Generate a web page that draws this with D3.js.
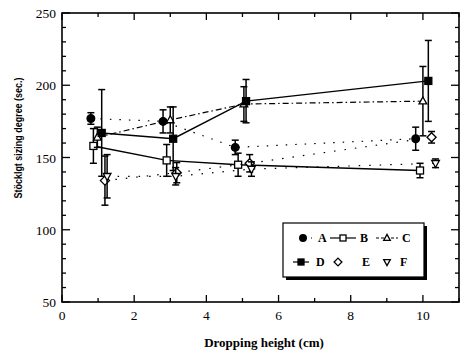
<!DOCTYPE html>
<html>
<head>
<meta charset="utf-8">
<script src="https://cdn.jsdelivr.net/npm/d3@7"></script>
<style>
  body { margin: 0; background: #fff; }
  svg { display: block; }
  .tick-label { font-family: "Liberation Serif", serif; font-size: 13.5px; fill: #000; }
  .title { font-family: "Liberation Serif", serif; font-weight: bold; font-size: 13px; }
  .ytitle { font-family: "Liberation Sans", Arial, sans-serif; font-weight: bold; font-size: 11.5px; }
  .leg { font-family: "Liberation Serif", serif; font-weight: bold; font-size: 12px; }
</style>
</head>
<body>
<svg id="chart" width="460" height="355"></svg>
<script>
// dropping height (cm), sizing degree (sec.) and error per series
const xA = [0.8, 2.8, 4.8, 9.8],     yA = [177, 175, 157, 163],   eA = [4, 8, 5, 8];
const xB = [0.87, 2.9, 4.88, 9.92],  yB = [158, 148, 145, 141],   eB = [12, 11, 8, 5];
const xC = [0.98, 3.0, 5.04, 10.0],  yC = [164, 176, 187, 189],   eC = [7, 9, 12, 24];
const xD = [1.1, 3.08, 5.1, 10.15],  yD = [167, 163, 189, 203],   eD = [30, 22, 15, 28];
const xE = [1.19, 3.18, 5.2, 10.24], yE = [134, 139.5, 146, 164], eE = [17, 7, 6, 4];
const xF = [1.25, 3.15, 5.25, 10.35], yF = [137, 137, 142, 146],  eF = [15, 6, 5, 3];

const xTicks = [0, 2, 4, 6, 8, 10];
const yTicks = [50, 100, 150, 200, 250];

const series = [
  { name: "A", xs: xA, ys: yA, es: eA, sym: "circle",   fill: "#000", dash: "1.5,8" },
  { name: "B", xs: xB, ys: yB, es: eB, sym: "square",   fill: "#fff", dash: null },
  { name: "C", xs: xC, ys: yC, es: eC, sym: "triangle", fill: "#fff", dash: "6,3,1.5,3" },
  { name: "D", xs: xD, ys: yD, es: eD, sym: "square",   fill: "#000", dash: null },
  { name: "E", xs: xE, ys: yE, es: eE, sym: "diamond",  fill: "#fff", dash: "1.5,9" },
  { name: "F", xs: xF, ys: yF, es: eF, sym: "down",     fill: "#fff", dash: "1.5,9" }
];

const svg = d3.select("#chart");
const mLeft = 62, mRight = 459, mTop = 13, mBottom = 302;

const x = d3.scaleLinear().domain([0, 11]).range([mLeft, mRight]);
const y = d3.scaleLinear().domain([50, 250]).range([mBottom, mTop]);

// frame
svg.append("rect")
  .attr("x", mLeft).attr("y", mTop)
  .attr("width", mRight - mLeft).attr("height", mBottom - mTop)
  .attr("fill", "none").attr("stroke", "#000").attr("stroke-width", 1.6);

// ticks on all four sides, pointing inward
const g = svg.append("g").attr("stroke", "#000").attr("stroke-width", 1.3);
d3.range(0, 11.01, 1).forEach(v => {
  const len = v % 2 === 0 ? 7 : 4;
  g.append("line").attr("x1", x(v)).attr("x2", x(v)).attr("y1", mBottom).attr("y2", mBottom - len);
  g.append("line").attr("x1", x(v)).attr("x2", x(v)).attr("y1", mTop).attr("y2", mTop + len);
});
d3.range(50, 250.01, 10).forEach(v => {
  const len = v % 50 === 0 ? 8 : 4;
  g.append("line").attr("x1", mLeft).attr("x2", mLeft + len).attr("y1", y(v)).attr("y2", y(v));
  g.append("line").attr("x1", mRight).attr("x2", mRight - len).attr("y1", y(v)).attr("y2", y(v));
});

svg.selectAll("text.xl").data(xTicks).enter().append("text")
  .attr("class", "tick-label")
  .attr("x", d => x(d)).attr("y", 320)
  .attr("text-anchor", "middle").text(d => d);

svg.selectAll("text.yl").data(yTicks).enter().append("text")
  .attr("class", "tick-label")
  .attr("x", 56).attr("y", d => y(d) + 5)
  .attr("text-anchor", "end").text(d => d);

svg.append("text").attr("class", "title")
  .attr("x", 264).attr("y", 347).attr("text-anchor", "middle")
  .text("Dropping height (cm)");

svg.append("text").attr("class", "ytitle")
  .attr("transform", "translate(22,138) rotate(-90)")
  .attr("text-anchor", "middle")
  .attr("textLength", 121).attr("lengthAdjust", "spacingAndGlyphs")
  .text("Stöcklgt sizing degree (sec.)");

function drawSymbol(sel, sym, fill, cx, cy, s) {
  let el;
  if (sym === "circle") {
    el = sel.append("circle").attr("cx", cx).attr("cy", cy).attr("r", s * 0.55);
  } else if (sym === "square") {
    el = sel.append("rect").attr("x", cx - s / 2).attr("y", cy - s / 2).attr("width", s).attr("height", s);
  } else if (sym === "triangle") {
    el = sel.append("path").attr("d", `M${cx},${cy - s * 0.6}L${cx + s * 0.55},${cy + s * 0.4}L${cx - s * 0.55},${cy + s * 0.4}Z`);
  } else if (sym === "down") {
    el = sel.append("path").attr("d", `M${cx},${cy + s * 0.6}L${cx + s * 0.55},${cy - s * 0.4}L${cx - s * 0.55},${cy - s * 0.4}Z`);
  } else {
    el = sel.append("path").attr("d", `M${cx},${cy - s * 0.65}L${cx + s * 0.65},${cy}L${cx},${cy + s * 0.65}L${cx - s * 0.65},${cy}Z`);
  }
  el.attr("fill", fill).attr("stroke", "#000").attr("stroke-width", 1.3);
}

const line = d3.line().x(d => x(d[0])).y(d => y(d[1]));

series.forEach(s => {
  const pts = s.xs.map((v, i) => [v, s.ys[i], s.es[i]]);
  const sg = svg.append("g");
  sg.append("path").attr("d", line(pts))
    .attr("fill", "none").attr("stroke", "#000")
    .attr("stroke-width", s.dash ? 1.2 : 1.4)
    .attr("stroke-dasharray", s.dash);
  pts.forEach(p => {
    const px = x(p[0]);
    sg.append("line").attr("x1", px).attr("x2", px)
      .attr("y1", y(p[1] - p[2])).attr("y2", y(p[1] + p[2]))
      .attr("stroke", "#000").attr("stroke-width", 1.5);
    [p[1] - p[2], p[1] + p[2]].forEach(v => {
      sg.append("line").attr("x1", px - 3.5).attr("x2", px + 3.5)
        .attr("y1", y(v)).attr("y2", y(v))
        .attr("stroke", "#000").attr("stroke-width", 1.5);
    });
  });
  pts.forEach(p => drawSymbol(sg, s.sym, s.fill, x(p[0]), y(p[1]), 7));
});

// legend
const lg = svg.append("g");
lg.append("rect").attr("x", 286).attr("y", 226).attr("width", 141).attr("height", 54).attr("fill", "#000");
lg.append("rect").attr("x", 283).attr("y", 223).attr("width", 141).attr("height", 54)
  .attr("fill", "#fff").attr("stroke", "#000").attr("stroke-width", 1.2);

const legendPos = [
  { s: series[0], x0: 300, x1: 312, sx: 303, tx: 318, ty: 242 },
  { s: series[1], x0: 330, x1: 356, sx: 343, tx: 360, ty: 242 },
  { s: series[2], x0: 376, x1: 398, sx: 387, tx: 402, ty: 242 },
  { s: series[3], x0: 293, x1: 309, sx: 301, tx: 316, ty: 266 },
  { s: series[4], x0: null, x1: null, sx: 338, tx: 362, ty: 266 },
  { s: series[5], x0: null, x1: null, sx: 387, tx: 400, ty: 266 }
];
legendPos.forEach(l => {
  const cy = l.ty - 4;
  if (l.x0 !== null) {
    lg.append("line").attr("x1", l.x0).attr("x2", l.x1).attr("y1", cy).attr("y2", cy)
      .attr("stroke", "#000").attr("stroke-width", 1.2)
      .attr("stroke-dasharray", l.s.name === "A" ? "1.5,4" : (l.s.dash ? "3,2" : null));
  }
  drawSymbol(lg, l.s.sym, l.s.fill, l.sx, cy, 6);
  lg.append("text").attr("class", "leg").attr("x", l.tx).attr("y", l.ty).text(l.s.name);
});
</script>
</body>
</html>
